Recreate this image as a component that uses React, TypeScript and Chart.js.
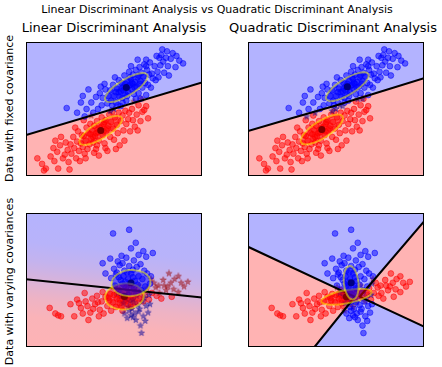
import React, { useEffect, useRef } from "react";
import { Chart, registerables } from "chart.js";
Chart.register(...registerables);

type Pt = [number, number];

const X_MIN = 0, X_MAX = 18.6, Y_MIN = 0, Y_MAX = 14.4;

// ---- data with fixed covariance ----
const fixedBlue: Pt[] = [
  [4.3,7.3],[5.4,6.8],[6.4,7.2],[6.6,9.3],[7.4,8.5],[8.3,9.9],[8.9,7.0],[9.7,7.6],[14.9,13.4],[16.6,12.1],[15.8,11.7],[15.1,10.8],[14.1,12.7],[12.7,12.5],[11.8,12.5],[11.1,11.8],[13.2,9.5],[13.7,10.3],[12.7,8.7],[12.1,8.3],
  [5.8,7.9],[6.2,6.4],[6.9,7.9],[7.1,6.8],[6.0,8.6],
  [7.6,7.2],[7.8,8.9],[8.0,7.6],[8.1,8.4],[8.4,9.3],[8.6,7.8],[7.9,9.6],[8.7,8.6],
  [8.9,9.2],[9.0,8.1],[9.2,9.8],[9.3,8.6],[9.5,7.9],[9.6,9.4],[9.8,10.3],[9.4,10.6],[9.9,8.5],[9.1,7.6],
  [10.0,9.1],[10.1,10.0],[10.2,8.4],[10.3,9.6],[10.4,10.8],[10.5,8.8],[10.6,9.5],[10.7,10.2],[10.8,9.0],[10.9,11.2],[11.0,9.8],[10.2,7.9],[10.6,8.1],
  [11.1,10.4],[11.2,9.3],[11.3,10.9],[11.4,8.8],[11.5,10.1],[11.6,11.4],[11.7,9.6],[11.8,10.6],[11.9,8.9],[12.0,11.7],[11.3,9.9],[11.6,8.3],
  [12.1,10.2],[12.2,11.1],[12.3,9.5],[12.4,10.7],[12.5,12.0],[12.6,10.0],[12.8,11.4],[12.9,9.8],[13.0,10.9],[12.7,11.8],
  [13.1,12.2],[13.3,11.0],[13.4,10.5],[13.6,11.8],[13.8,12.9],[13.9,11.2],[14.0,10.6],
  [14.2,11.9],[14.3,13.0],[14.5,12.3],[14.6,11.1],[14.8,12.7],[15.0,11.8],
  [15.3,12.6],[15.5,13.2],[15.9,12.9],[16.2,12.4],[14.4,13.6],
  [10.3,9.2],[10.9,9.7],[11.2,10.0],[10.5,9.9],[11.0,10.6],[9.8,9.0],[10.7,8.6],[11.5,9.5],[9.5,9.0],[12.0,9.9],[11.9,10.8],[10.1,9.4],[9.3,7.2],[10.0,7.5]
];
const fixedRed: Pt[] = [
  [1.2,1.9],[1.7,1.3],[2.1,0.8],[1.9,0.6],[3.4,0.8],[4.6,0.7],[2.9,3.0],[3.7,4.2],[4.1,2.3],[7.7,2.2],[9.9,3.3],[12.9,6.2],[12.7,7.5],[12.2,8.3],[11.4,8.0],[10.9,6.8],[6.9,6.5],[6.1,6.0],
  [2.6,2.1],[3.0,1.6],[3.3,2.6],[3.6,3.3],[3.9,1.9],[4.2,3.6],[4.4,2.8],[4.5,1.5],[3.1,3.8],
  [4.7,3.4],[4.8,2.4],[5.0,4.2],[5.1,3.0],[5.3,1.9],[5.4,3.7],[5.5,4.8],[5.6,2.7],[5.8,3.5],[5.9,4.4],[5.2,5.2],[5.7,1.6],
  [6.0,3.1],[6.1,4.3],[6.2,2.4],[6.3,3.8],[6.4,5.2],[6.5,2.9],[6.6,4.6],[6.7,3.4],[6.8,5.6],[6.9,4.0],[6.3,1.9],
  [7.0,4.9],[7.1,3.6],[7.2,5.4],[7.3,4.3],[7.4,2.9],[7.5,5.9],[7.6,4.7],[7.7,3.8],[7.8,5.2],[7.9,4.9],[8.0,6.3],[7.5,3.3],[7.2,2.5],
  [8.1,4.4],[8.2,5.6],[8.3,3.5],[8.4,6.0],[8.5,4.9],[8.6,2.7],[8.7,5.4],[8.8,6.6],[8.9,4.2],[9.0,5.8],[8.4,3.0],
  [9.1,6.9],[9.2,5.1],[9.3,3.9],[9.4,6.3],[9.6,5.5],[9.7,4.6],[9.8,6.8],[10.0,5.9],[9.5,2.9],
  [10.2,6.5],[10.3,4.9],[10.5,7.0],[10.6,5.6],[10.8,6.1],[11.0,4.8],[11.2,7.2],[11.3,6.0],[11.5,5.3],[10.4,3.8],
  [11.7,6.6],[11.9,7.6],[12.1,5.9],[12.3,6.9],[12.5,7.1],[11.8,4.9],
  [7.6,5.0],[8.2,4.8],[7.4,4.6],[8.0,5.3],[7.1,4.2],[8.6,5.1],[6.8,4.5],[8.3,5.8]
];

// ---- data with varying covariances ----
const varBlue: Pt[] = [
  [10.9,12.6],[9.2,12.2],[11.6,11.2],[11.1,10.6],[12.4,10.3],[13.4,10.1],[10.1,9.8],[8.9,9.5],[8.1,9.0],[12.7,9.7],[12.1,8.9],[8.4,7.9],[13.2,7.6],[10.4,3.6],[11.1,3.4],[11.9,3.8],[10.7,3.1],[11.6,2.9],[12.4,3.3],[12.1,2.3],[12.6,2.8],[12.2,1.5],[11.2,4.1],[12.7,4.4],
  [9.7,9.2],[10.6,9.6],[11.4,9.3],[11.9,9.9],[10.2,9.0],
  [9.3,8.4],[9.9,8.8],[10.4,8.2],[10.9,8.7],[11.3,8.3],[11.7,8.6],[12.5,8.2],[9.6,8.0],[10.7,8.0],
  [9.0,7.4],[9.5,7.8],[10.0,7.2],[10.3,7.6],[10.8,7.3],[11.1,7.9],[11.5,7.1],[11.9,7.6],[12.3,7.3],[12.8,7.9],[10.5,7.0],[11.3,7.5],[9.8,7.5],
  [9.4,6.6],[9.9,6.2],[10.2,6.8],[10.6,6.4],[11.0,6.9],[11.4,6.3],[11.8,6.7],[12.2,6.1],[12.6,6.5],[13.1,6.8],[10.8,6.0],[11.2,6.6],[10.4,6.6],
  [10.1,5.5],[10.5,5.2],[10.9,5.7],[11.3,5.1],[11.7,5.5],[12.1,5.8],[12.5,5.3],[13.0,5.6],[11.5,5.9],[9.7,5.8],
  [10.3,4.7],[10.8,4.3],[11.4,4.8],[11.8,4.5],[12.3,4.9],[13.1,4.6],[11.0,4.9],[12.0,4.1],
  [10.9,3.9],[11.5,3.6],[12.9,3.7],[11.3,3.2]
];
const varRed: Pt[] = [
  [2.5,4.2],[3.1,3.6],[3.4,3.4],[3.7,3.3],[5.1,3.3],[4.7,4.6],[5.4,5.1],[6.2,5.8],[6.6,2.9],[7.7,3.3],[7.1,4.1],[17.1,7.0],[16.7,6.5],[16.1,5.9],[15.7,7.3],[15.1,7.9],[15.4,5.4],[16.1,7.6],[14.6,6.6],[14.1,5.8],[13.7,6.4],
  [5.8,4.2],[6.0,3.6],[6.3,4.9],[6.5,4.4],[6.8,3.7],[7.0,5.2],[5.6,4.7],
  [7.3,4.6],[7.5,5.5],[7.8,4.0],[8.0,4.9],[8.2,3.6],[8.4,5.4],[8.6,4.4],[8.8,5.0],[9.0,3.9],[8.1,5.9],[7.6,4.8],[8.9,5.7],
  [9.2,4.8],[9.3,5.6],[9.5,4.3],[9.6,5.2],[9.8,6.1],[9.9,4.7],[10.0,5.5],[10.2,3.9],[10.3,5.0],[10.5,6.0],[10.6,5.4],[10.8,4.6],[10.9,5.8],[11.0,5.1],[9.4,6.4],[10.1,4.4],[10.7,6.6],
  [11.2,5.5],[11.4,6.2],[11.5,4.8],[11.7,5.7],[11.9,6.6],[12.0,5.2],[12.2,6.0],[12.4,4.9],[12.6,5.6],[12.8,6.3],[13.0,5.1],[11.1,4.3],
  [13.3,5.8],[13.5,6.9],[13.8,5.5],[14.0,6.6],[14.3,5.2],[14.5,7.2],[14.8,6.1],[13.2,7.3],
  [15.0,6.5],[15.3,6.9],[15.6,6.2],[16.4,6.9],
  [10.4,5.4],[10.2,5.6],[10.7,5.2],[9.9,5.1],[11.3,5.3],[9.6,5.7],[10.5,4.9],[11.6,5.9],[8.7,5.3]
];

// ---- decision boundaries (P(class blue) = 0.5) ----
const ldaFixedBoundary: Pt[] = [[0, 4.4], [18.6, 10.04]];
const qdaFixedBoundary: Pt[] = [[0, 4.83], [4.6, 6.2], [9.2, 7.55], [13.8, 9.0], [18.6, 10.5]];
const ldaVarBoundary: Pt[] = [[0, 7.27], [18.6, 5.32]];
const qdaVarBoundaryLeft: Pt[] = [[0, 10.77], [11.3, 5.4], [7.03, 0]];
const qdaVarBoundaryRight: Pt[] = [[18.6, 13.5], [11.8, 5.4], [18.6, 2.18]];

// LDA probability profile across the boundary (varying covariances)
const ldaVarGradDist = [-8, -4, -2, -1, 0, 1, 2, 4, 8];
const ldaVarGradProb = [0.01, 0.07, 0.22, 0.36, 0.5, 0.64, 0.78, 0.93, 0.99];

// ---- class ellipses (1 std) : centre x, centre y, semi-major, semi-minor, angle(deg) ----
const ldaFixedEllBlue = [10.6, 9.5, 2.6, 0.85, 32];
const ldaFixedEllRed = [7.9, 4.9, 2.6, 0.85, 32];
const qdaFixedEllBlue = [10.5, 9.6, 2.6, 0.85, 32];
const qdaFixedEllRed = [7.8, 5.0, 2.6, 0.9, 33];
const ldaVarEllBlue = [11.1, 6.87, 2.05, 1.4, 5];
const ldaVarEllRed = [10.4, 5.43, 2.05, 1.4, 5];
const qdaVarEllBlue = [10.9, 6.9, 1.8, 0.78, 96];
const qdaVarEllRed = [10.4, 5.4, 2.7, 0.7, 11];

const BLUE_BG = [179, 179, 255];
const PINK_BG = [255, 179, 179];
function probColor(p: number) {
  const c = PINK_BG.map((v, i) => Math.round(v + (BLUE_BG[i] - v) * p));
  return `rgb(${c[0]},${c[1]},${c[2]})`;
}

function inPoly(p: Pt, poly: Pt[]) {
  let inside = false;
  for (let i = 0, j = poly.length - 1; i < poly.length; j = i++) {
    const [xi, yi] = poly[i], [xj, yj] = poly[j];
    if ((yi > p[1]) !== (yj > p[1]) && p[0] < ((xj - xi) * (p[1] - yi)) / (yj - yi) + xi) inside = !inside;
  }
  return inside;
}

const starCache: Record<string, HTMLCanvasElement> = {};
function starImg(color: string) {
  if (starCache[color]) return starCache[color];
  const c = document.createElement("canvas");
  c.width = 8; c.height = 8;
  const g = c.getContext("2d")!;
  g.beginPath();
  for (let k = 0; k < 10; k++) {
    const r = k % 2 === 0 ? 3.4 : 1.4;
    const a = -Math.PI / 2 + (k * Math.PI) / 5;
    const x = 4 + r * Math.cos(a), y = 4 + r * Math.sin(a);
    k ? g.lineTo(x, y) : g.moveTo(x, y);
  }
  g.closePath();
  g.fillStyle = color; g.fill();
  g.strokeStyle = color; g.lineWidth = 0.6; g.stroke();
  starCache[color] = c;
  return c;
}

type Spec = {
  left: number; top: number;
  blue: Pt[]; red: Pt[];
  pink: Pt[][];
  lines: Pt[][];
  ellBlue: number[]; ellRed: number[];
  gradient?: boolean;
};

const specs: Spec[] = [
  { left: 21, top: 37, blue: fixedBlue, red: fixedRed,
    pink: [[[X_MIN, Y_MIN], ...ldaFixedBoundary, [X_MAX, Y_MIN]]],
    lines: [ldaFixedBoundary], ellBlue: ldaFixedEllBlue, ellRed: ldaFixedEllRed },
  { left: 243, top: 37, blue: fixedBlue, red: fixedRed,
    pink: [[[X_MIN, Y_MIN], ...qdaFixedBoundary, [X_MAX, Y_MIN]]],
    lines: [qdaFixedBoundary], ellBlue: qdaFixedEllBlue, ellRed: qdaFixedEllRed },
  { left: 21, top: 208, blue: varBlue, red: varRed,
    pink: [[[X_MIN, Y_MIN], ...ldaVarBoundary, [X_MAX, Y_MIN]]],
    lines: [ldaVarBoundary], ellBlue: ldaVarEllBlue, ellRed: ldaVarEllRed, gradient: true },
  { left: 243, top: 208, blue: varBlue, red: varRed,
    pink: [[[X_MIN, Y_MIN], ...qdaVarBoundaryLeft], qdaVarBoundaryRight],
    lines: [qdaVarBoundaryLeft, qdaVarBoundaryRight], ellBlue: qdaVarEllBlue, ellRed: qdaVarEllRed },
];

function makeDecor(s: Spec) {
  return {
    id: "decor",
    beforeDatasetsDraw(chart: any) {
      const { ctx, chartArea: a, scales } = chart;
      const xs = scales.x, ys = scales.y;
      ctx.save();
      ctx.beginPath();
      ctx.rect(a.left, a.top, a.right - a.left, a.bottom - a.top);
      ctx.clip();
      if (s.gradient) {
        const b = s.lines[0];
        const mx = (b[0][0] + b[1][0]) / 2, my = (b[0][1] + b[1][1]) / 2;
        const dx = b[1][0] - b[0][0], dy = b[1][1] - b[0][1];
        const L = Math.hypot(dx, dy);
        const nx = -dy / L, ny = dx / L;
        const d0 = ldaVarGradDist[0], d1 = ldaVarGradDist[ldaVarGradDist.length - 1];
        const g = ctx.createLinearGradient(
          xs.getPixelForValue(mx + nx * d0), ys.getPixelForValue(my + ny * d0),
          xs.getPixelForValue(mx + nx * d1), ys.getPixelForValue(my + ny * d1));
        ldaVarGradDist.forEach((d, i) => g.addColorStop((d - d0) / (d1 - d0), probColor(ldaVarGradProb[i])));
        ctx.fillStyle = g;
        ctx.fillRect(a.left, a.top, a.right - a.left, a.bottom - a.top);
      } else {
        ctx.fillStyle = probColor(1);
        ctx.fillRect(a.left, a.top, a.right - a.left, a.bottom - a.top);
        ctx.fillStyle = probColor(0);
        s.pink.forEach((poly) => {
          ctx.beginPath();
          poly.forEach(([x, y], i) => {
            const px = xs.getPixelForValue(x), py = ys.getPixelForValue(y);
            i ? ctx.lineTo(px, py) : ctx.moveTo(px, py);
          });
          ctx.closePath();
          ctx.fill();
        });
      }
      ctx.restore();
    },
    afterDatasetsDraw(chart: any) {
      const { ctx, chartArea: a, scales } = chart;
      const xs = scales.x, ys = scales.y;
      ctx.save();
      ctx.beginPath();
      ctx.rect(a.left, a.top, a.right - a.left, a.bottom - a.top);
      ctx.clip();
      const sx = xs.getPixelForValue(1) - xs.getPixelForValue(0);
      const sy = ys.getPixelForValue(0) - ys.getPixelForValue(1);
      const ells: [number[], string][] = [[s.ellRed, "rgba(255,0,0,0.5)"], [s.ellBlue, "rgba(0,0,255,0.5)"]];
      ells.forEach(([e]) => {
        ctx.beginPath();
        ctx.arc(xs.getPixelForValue(e[0]), ys.getPixelForValue(e[1]), 3.5, 0, Math.PI * 2);
        ctx.fillStyle = "#000";
        ctx.fill();
      });
      ells.forEach(([e, col]) => {
        ctx.save();
        ctx.translate(xs.getPixelForValue(e[0]), ys.getPixelForValue(e[1]));
        ctx.scale(sx, -sy);
        ctx.rotate((e[4] * Math.PI) / 180);
        ctx.beginPath();
        ctx.ellipse(0, 0, e[2], e[3], 0, 0, Math.PI * 2);
        ctx.restore();
        ctx.fillStyle = col;
        ctx.fill();
        ctx.strokeStyle = "rgba(255,255,0,0.5)";
        ctx.lineWidth = 2;
        ctx.stroke();
      });
      ctx.restore();
      ctx.save();
      ctx.strokeStyle = "#000";
      ctx.lineWidth = 1;
      ctx.strokeRect(a.left + 0.5, a.top + 0.5, a.right - a.left - 1, a.bottom - a.top - 1);
      ctx.restore();
    },
  };
}

function Panel({ spec }: { spec: Spec }) {
  const ref = useRef<HTMLCanvasElement>(null);
  useEffect(() => {
    const s = spec;
    const predictedRed = (p: Pt) => s.pink.some((poly) => inPoly(p, poly));
    const toXY = (arr: Pt[]) => arr.map(([x, y]) => ({ x, y }));
    const redTP = s.red.filter((p) => predictedRed(p));
    const redFP = s.red.filter((p) => !predictedRed(p));
    const blueTP = s.blue.filter((p) => !predictedRed(p));
    const blueFP = s.blue.filter((p) => predictedRed(p));
    const lineSets = s.lines.map((l) => ({
      type: "line" as const,
      data: toXY(l),
      showLine: true,
      borderColor: "#000",
      borderWidth: 2,
      pointRadius: 0,
      fill: false,
      tension: 0,
    }));
    const circle = (arr: Pt[], col: string) => ({
      type: "scatter" as const,
      data: toXY(arr),
      pointRadius: 2.9,
      pointBorderWidth: 1,
      backgroundColor: col,
      borderColor: col,
    });
    const star = (arr: Pt[], col: string) => ({
      type: "scatter" as const,
      data: toXY(arr),
      pointStyle: starImg(col) as any,
      pointRadius: 3,
    });
    const chart = new Chart(ref.current!, {
      type: "scatter",
      data: {
        datasets: [
          ...lineSets,
          star(blueFP, "rgba(0,0,153,0.5)"),
          circle(blueTP, "rgba(0,0,255,0.5)"),
          star(redFP, "rgba(153,0,0,0.5)"),
          circle(redTP, "rgba(255,0,0,0.5)"),
        ] as any,
      },
      options: {
        responsive: false,
        animation: false,
        events: [],
        layout: { padding: 0 },
        plugins: { legend: { display: false }, tooltip: { enabled: false }, title: { display: false } },
        scales: {
          x: { type: "linear", min: X_MIN, max: X_MAX, display: false },
          y: { type: "linear", min: Y_MIN, max: Y_MAX, display: false },
        },
      },
      plugins: [makeDecor(s)],
    });
    return () => chart.destroy();
  }, [spec]);
  return (
    <canvas
      ref={ref}
      width={186}
      height={144}
      style={{ position: "absolute", left: spec.left, top: spec.top, width: 186, height: 144 }}
    />
  );
}

const font = '"DejaVu Sans", sans-serif';

export default function App() {
  return (
    <div style={{ position: "fixed", left: 0, top: 0, width: 442, height: 367, background: "#fff", fontFamily: font, color: "#000", overflow: "hidden" }}>
      <div style={{ position: "absolute", left: 0, width: 434, top: 4, fontSize: 11, lineHeight: "11px", textAlign: "center", whiteSpace: "nowrap" }}>
        Linear Discriminant Analysis vs Quadratic Discriminant Analysis
      </div>
      <div style={{ position: "absolute", left: -6, width: 240, top: 21, fontSize: 13, lineHeight: "13px", textAlign: "center", whiteSpace: "nowrap" }}>
        Linear Discriminant Analysis
      </div>
      <div style={{ position: "absolute", left: 213, width: 240, top: 21, fontSize: 13, lineHeight: "13px", textAlign: "center", whiteSpace: "nowrap" }}>
        Quadratic Discriminant Analysis
      </div>
      <div style={{ position: "absolute", left: -91, width: 200, top: 103, fontSize: 11, lineHeight: "11px", textAlign: "center", whiteSpace: "nowrap", transform: "rotate(-90deg)" }}>
        Data with fixed covariance
      </div>
      <div style={{ position: "absolute", left: -91, width: 200, top: 275.5, fontSize: 11, lineHeight: "11px", textAlign: "center", whiteSpace: "nowrap", transform: "rotate(-90deg)" }}>
        Data with varying covariances
      </div>
      {specs.map((s, i) => (
        <Panel key={i} spec={s} />
      ))}
    </div>
  );
}
